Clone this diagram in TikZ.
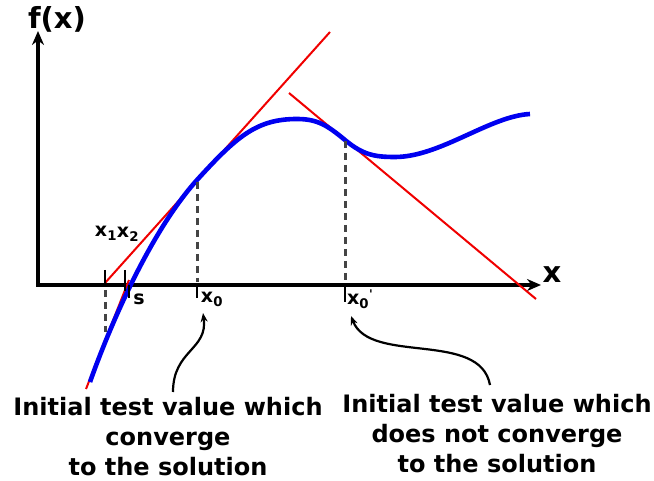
\documentclass[tikz,border=0pt]{standalone}
\usepackage{fontspec}
\setmainfont{DejaVu Sans}
\usepackage{tikz}
\usetikzlibrary{arrows.meta}
\usepackage{xcolor}
\definecolor{CurveBlue}{HTML}{0000F0}
\definecolor{TangentRed}{HTML}{F00000}
\definecolor{GuideGray}{HTML}{444444}

\begin{document}
\begin{tikzpicture}[>=Stealth,x=1pt,y=-1pt,
    every node/.style={font=\bfseries\fontsize{24}{30}\selectfont},
    small/.style={font=\bfseries\fontsize{19}{20}\selectfont},
    tick/.style={line width=2.6pt},
    guide/.style={line width=3pt,GuideGray,dash pattern=on 7pt off 5pt},
    tangent/.style={line width=2pt,TangentRed},
    note/.style={->,line width=2.2pt,>={Stealth[length=9pt,width=7pt]}}]
  \useasboundingbox (0,0) rectangle (654,481);
  \coordinate (O) at (36,285);
  \coordinate (Xend) at (541,285);
  \coordinate (Yend) at (38,31);
  % axes
  \draw[->,line width=3.8pt,>={Stealth[length=14pt,width=12pt]}] (O)--(Xend);
  \draw[->,line width=3.8pt,>={Stealth[length=14pt,width=12pt]}] (38,287)--(Yend);
  \node[font=\bfseries\fontsize{29}{32}\selectfont] (fx) at (57,19) {f(x)};
  \node[font=\bfseries\fontsize{29}{32}\selectfont] (xl) at (552,275) {x};
  % tangents
  \draw[tangent] (86,389)--(129,280);
  \draw[tangent] (105,283)--(330,32);
  \draw[tangent] (289,93)--(536,299);
  % function
  \draw[line width=4.6pt,CurveBlue] (90,382)
    .. controls (112,320) and (152,230) .. (197,180)
    .. controls (237,136) and (257,119) .. (297,119)
    .. controls (317,119) and (327,125) .. (345,140)
    .. controls (363,155) and (375,157) .. (395,157)
    .. controls (440,157) and (490,116) .. (530,114);
  % guide lines and ticks
  \draw[guide] (105,290)--(105,332);
  \draw[tick] (105,270)--(105,285);
  \draw[tick] (125,270)--(125,291);
  \draw[tick] (129,285)--(129,298);
  \draw[guide] (197,182)--(197,282);
  \draw[tick] (197,285)--(197,298);
  \draw[guide] (345,141)--(345,281);
  \draw[tick] (345,285)--(345,302);
  % labels
  \node[small] (x1) at (106,233) {x\textsubscript{1}};
  \node[small] (x2) at (128,234) {x\textsubscript{2}};
  \node[small] (s) at (139,299) {s};
  \node[small] (x0) at (212,299) {x\textsubscript{0}};
  \node[small] (x0p) at (360,299) {x\textsubscript{0}\raisebox{0.6ex}{\fontsize{12}{12}\selectfont\textquotesingle}};
  % notes
  \node[align=center] (good) at (168,437) {Initial test value which\\converge\\to the solution};
  \node[align=center] (bad) at (497,434) {Initial test value which\\does not converge\\to the solution};
  \coordinate (g0) at (173,392);
  \coordinate (b0) at (490,385);
  \draw[note] (g0) .. controls (173,350) and (208,350) .. (203,313);
  \draw[note] (b0) .. controls (480,330) and (370,365) .. (351,316);
\end{tikzpicture}
\end{document}
